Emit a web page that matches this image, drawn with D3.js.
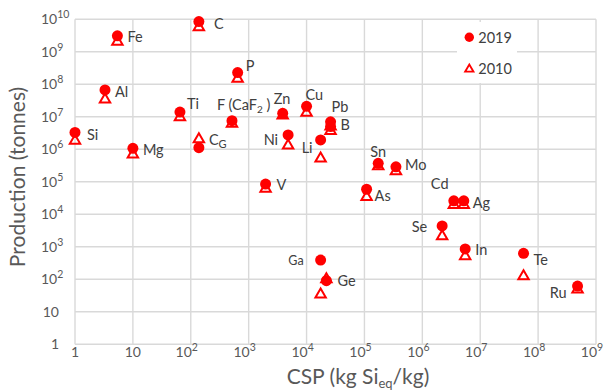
<!DOCTYPE html>
<html>
<head>
<meta charset="utf-8">
<script src="https://cdn.jsdelivr.net/npm/d3@7"></script>
<style>
  body { margin: 0; background: #fff; }
  text { font-family: Lato, "Open Sans", sans-serif; }
</style>
</head>
<body>
<script>
// chart data
const elements = ["C", "Fe", "Al", "P", "Ti", "F", "Zn", "Cu", "Si", "Mg", "CG", "Ni", "Li", "V",
  "Pb", "B", "Sn", "Mo", "As", "Cd", "Ag", "Se", "In", "Te", "Ru", "Ga", "Ge"]
const csp = [138, 5.4, 3.3, 645, 65, 515, 3870, 1.0e4, 1, 10, 138, 4800, 1.75e4, 1960,
  2.6e4, 2.6e4, 1.73e5, 3.5e5, 1.09e5, 3.5e6, 5.2e6, 2.2e6, 5.5e6, 5.6e7, 4.8e8, 1.75e4, 2.2e4]
const prod2019 = [8.5e9, 3.1e9, 6.7e7, 2.3e8, 1.4e7, 7.6e6, 1.28e7, 2.1e7, 3.3e6, 1.07e6, 1.12e6, 2.76e6,
  1.94e6, 8.5e4, 7e6, 5e6, 3.7e5, 2.9e5, 5.9e4, 2.6e4, 2.6e4, 4.4e3, 860, 630, 62, 390, 91]
const prod2010 = [6.2e9, 2.2e9, 3.7e7, 1.6e8, 1.06e7, 6.6e6, 1.2e7, 1.44e7, 2.0e6, 7.5e5, 2.2e6, 1.42e6,
  5.7e5, 6.6e4, 5.5e6, 4e6, 3.3e5, 2.3e5, 3.7e4, 2.1e4, 2.1e4, 2.3e3, 560, 136, 53, 37, 110]
const xTickLabels = ["1", "10", "10^2", "10^3", "10^4", "10^5", "10^6", "10^7", "10^8", "10^9"]
const yTickLabels = ["1", "10", "10^2", "10^3", "10^4", "10^5", "10^6", "10^7", "10^8", "10^9", "10^10"]
const seriesNames = ["2019", "2010"]

const width = 616, height = 390
const margin = {top: 19.3, right: 20, bottom: 45.7, left: 75}
const red = "#ff0000", grid = "#d9d9d9"

const svg = d3.select("body").append("svg")
    .attr("width", width)
    .attr("height", height)

const xScale = d3.scaleLog()
    .domain([1, 1e9])
    .range([margin.left, width - margin.right])
const yScale = d3.scaleLog()
    .domain([1, 1e10])
    .range([height - margin.bottom, margin.top])

const xTicks = xTickLabels.map((d, i) => Math.pow(10, i))
const yTicks = yTickLabels.map((d, i) => Math.pow(10, i))

// gridlines
svg.append("g")
  .selectAll("line").data(xTicks).enter().append("line")
    .attr("x1", d => xScale(d)).attr("x2", d => xScale(d))
    .attr("y1", yScale(1e10)).attr("y2", yScale(1))
    .attr("stroke", grid).attr("stroke-width", 1.4)
svg.append("g")
  .selectAll("line").data(yTicks).enter().append("line")
    .attr("x1", xScale(1)).attr("x2", xScale(1e9))
    .attr("y1", d => yScale(d)).attr("y2", d => yScale(d))
    .attr("stroke", grid).attr("stroke-width", 1.4)

// tick label with superscript
function powerLabel(sel, label) {
  const parts = label.split("^")
  sel.append("tspan").text(parts[0])
  if (parts[1]) {
    sel.append("tspan").attr("dy", -6).attr("font-size", "10.5px").text(parts[1])
  }
}

svg.append("g")
  .selectAll("text").data(xTickLabels).enter().append("text")
    .attr("x", (d, i) => xScale(xTicks[i]) - (d.includes("^") ? 4 : 0))
    .attr("y", height - margin.bottom + 13)
    .attr("text-anchor", "middle")
    .attr("font-size", "14px")
    .attr("fill", "#595959")
    .each(function(d) { powerLabel(d3.select(this), d) })

svg.append("g")
  .selectAll("text").data(yTickLabels).enter().append("text")
    .attr("x", d => d.includes("^") ? 41 : 59)
    .attr("y", (d, i) => yScale(yTicks[i]) + 5)
    .attr("text-anchor", d => d.includes("^") ? "start" : "end")
    .attr("font-size", "14px")
    .attr("fill", "#595959")
    .each(function(d) { powerLabel(d3.select(this), d) })

// axis titles
const xTitle = svg.append("text")
    .attr("x", 358)
    .attr("y", 384)
    .attr("text-anchor", "middle")
    .attr("font-size", "21px")
    .attr("fill", "#595959")
xTitle.append("tspan").text("CSP (kg Si")
xTitle.append("tspan").attr("font-size", "13px").attr("dy", 4).text("eq")
xTitle.append("tspan").attr("dy", -4).text("/kg)")

svg.append("text")
    .attr("transform", "translate(25,177) rotate(-90)")
    .attr("text-anchor", "middle")
    .attr("font-size", "21px")
    .attr("fill", "#595959")
    .text("Production (tonnes)")

// markers
const tri = "M0,-4.8L5.2,4.2L-5.2,4.2Z"
const idx = d3.range(elements.length)

svg.append("g")
  .selectAll("circle").data(idx).enter().append("circle")
    .attr("cx", i => xScale(csp[i]))
    .attr("cy", i => yScale(prod2019[i]))
    .attr("r", 5.5)
    .attr("fill", red)

svg.append("g")
  .selectAll("path").data(idx).enter().append("path")
    .attr("d", tri)
    .attr("transform", i => "translate(" + xScale(csp[i]) + "," + yScale(prod2010[i]) + ")")
    .attr("fill", "none")
    .attr("stroke", red)
    .attr("stroke-width", 2)

// element labels: offset from the 2019 point
const labelPos = {
  C: [15, 2], Fe: [10, 1], Al: [10, 2], P: [8, -7], Ti: [7, -8], F: [-15, -16],
  Zn: [-9, -14], Cu: [-1, -11], Si: [12, 3], Mg: [10, 2], CG: [10, -8], Ni: [-10, 5, "end"],
  Li: [-8, 8, "end"], V: [11, 1], Pb: [1, -15], B: [10, -2], Sn: [-8, -11], Mo: [9, -2],
  As: [8, 7], Cd: [-23, -17], Ag: [9, 2], Se: [-15, 1, "end"], In: [10, 1], Te: [10, 7],
  Ru: [-11, 7, "end"], Ga: [-17, 0, "end"], Ge: [11, 0]
}

svg.append("g")
  .selectAll("text").data(idx).enter().append("text")
    .attr("x", i => xScale(csp[i]) + labelPos[elements[i]][0])
    .attr("y", i => yScale(prod2019[i]) + labelPos[elements[i]][1] + 5)
    .attr("text-anchor", i => labelPos[elements[i]][2] || "start")
    .attr("font-size", i => elements[i] == "Ga" ? "12.5px" : "14.5px")
    .attr("fill", "#404040")
    .each(function(i) {
      const t = d3.select(this)
      const name = elements[i]
      if (name == "F") {
        t.append("tspan").text("F (CaF")
        t.append("tspan").attr("font-size", "10px").attr("dy", 3).text("2")
        t.append("tspan").attr("dy", -3).text(" )")
      } else if (name == "CG") {
        t.append("tspan").text("C")
        t.append("tspan").attr("font-size", "11px").attr("dy", 3).text("G")
      } else {
        t.text(name)
      }
    })

// legend
const legend = svg.append("g")
legend.append("rect")
    .attr("x", 457).attr("y", 22)
    .attr("width", 60).attr("height", 61)
    .attr("fill", "#fff")
legend.append("circle")
    .attr("cx", 469.3).attr("cy", 37.3).attr("r", 4.7)
    .attr("fill", red)
legend.append("path")
    .attr("d", "M0,-3.8L4.2,3.4L-4.2,3.4Z")
    .attr("transform", "translate(469.3,68.3)")
    .attr("fill", "none").attr("stroke", red).attr("stroke-width", 1.8)
legend.selectAll(".lt").data(seriesNames).enter().append("text")
    .attr("x", 478.3)
    .attr("y", (d, i) => 42.5 + i * 31)
    .attr("font-size", "14.5px")
    .attr("fill", "#404040")
    .text(d => d)
</script>
</body>
</html>
